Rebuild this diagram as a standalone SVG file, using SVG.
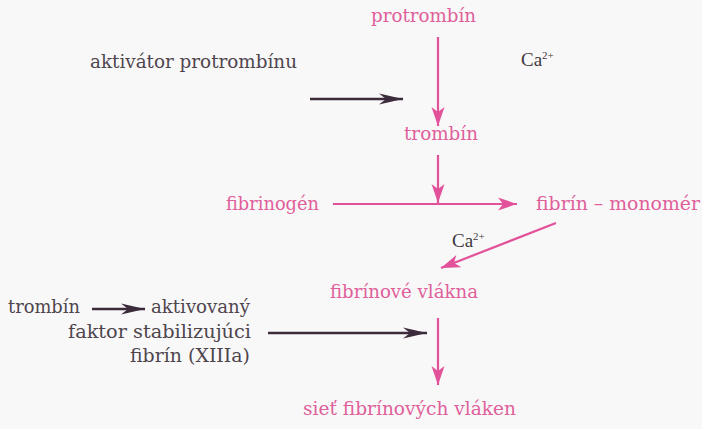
<svg xmlns="http://www.w3.org/2000/svg" width="702" height="429" viewBox="0 0 702 429">
<defs>
<style>
text{font-family:"DejaVu Serif","Liberation Serif",serif;font-size:18px}
.pk{fill:#df5f9a}
.dk{fill:#4e454d}
.ca{font-family:"Liberation Serif",serif;font-size:19px;fill:#3e3b3e}
.sup{font-size:11px}
.lp{stroke:#e2529a;stroke-width:2.2;fill:none}
.ld{stroke:#3b2b3b;stroke-width:2.4;fill:none}
</style>
<marker id="ap" markerUnits="userSpaceOnUse" markerWidth="22" markerHeight="16" refX="19" refY="7" orient="auto">
<path d="M0,0.5 L19,7 L0,13.5 L5,7 z" fill="#e2529a"/>
</marker>
<marker id="ad" markerUnits="userSpaceOnUse" markerWidth="26" markerHeight="14" refX="24" refY="6.5" orient="auto">
<path d="M0,1 L24,6.5 L0,12 L7,6.5 z" fill="#3b2b3b"/>
</marker>
</defs>
<rect width="702" height="429" fill="#f9f8f9"/>
<g id="connectors">
<line class="ld" x1="310" y1="99" x2="403" y2="99" marker-end="url(#ad)"/>
<line class="lp" x1="438" y1="37" x2="438" y2="126" marker-end="url(#ap)"/>
<line class="lp" x1="438" y1="155" x2="438" y2="203" marker-end="url(#ap)"/>
<line class="lp" x1="333" y1="204" x2="517" y2="204" marker-end="url(#ap)"/>
<line class="lp" x1="556" y1="223" x2="441" y2="268" marker-end="url(#ap)"/>
<line class="ld" x1="92" y1="309" x2="145" y2="309" marker-end="url(#ad)"/>
<line class="ld" x1="268" y1="333" x2="427" y2="333" marker-end="url(#ad)"/>
<line class="lp" x1="438" y1="318" x2="438" y2="385" marker-end="url(#ap)"/>
</g>
<g id="n-aktivator"><text class="dk" x="90" y="68" textLength="207" lengthAdjust="spacingAndGlyphs">aktivátor protrombínu</text></g>
<g id="n-protrombin"><text class="pk" x="371" y="22" textLength="105" lengthAdjust="spacingAndGlyphs">protrombín</text></g>
<g id="n-ca1"><text class="ca" x="521" y="66">Ca<tspan class="sup" dy="-7">2+</tspan></text></g>
<g id="n-trombin"><text class="pk" x="404" y="140" textLength="74" lengthAdjust="spacingAndGlyphs">trombín</text></g>
<g id="n-fibrinogen"><text class="pk" x="226" y="210" textLength="93" lengthAdjust="spacingAndGlyphs">fibrinogén</text></g>
<g id="n-monomer"><text class="pk" x="536" y="210" textLength="164" lengthAdjust="spacingAndGlyphs">fibrín – monomér</text></g>
<g id="n-ca2"><text class="ca" x="452" y="247">Ca<tspan class="sup" dy="-7">2+</tspan></text></g>
<g id="n-vlakna"><text class="pk" x="330" y="298" textLength="148" lengthAdjust="spacingAndGlyphs">fibrínové vlákna</text></g>
<g id="n-trombin2"><text class="dk" x="8" y="313" textLength="72" lengthAdjust="spacingAndGlyphs">trombín</text></g>
<g id="n-faktor">
<text class="dk" x="151" y="313" textLength="99" lengthAdjust="spacingAndGlyphs">aktivovaný</text>
<text class="dk" x="68" y="338" textLength="183" lengthAdjust="spacingAndGlyphs">faktor stabilizujúci</text>
<text class="dk" x="130" y="362" textLength="120" lengthAdjust="spacingAndGlyphs">fibrín (XIIIa)</text>
</g>
<g id="n-siet"><text class="pk" x="303" y="415" textLength="213" lengthAdjust="spacingAndGlyphs">sieť fibrínových vláken</text></g>
</svg>
